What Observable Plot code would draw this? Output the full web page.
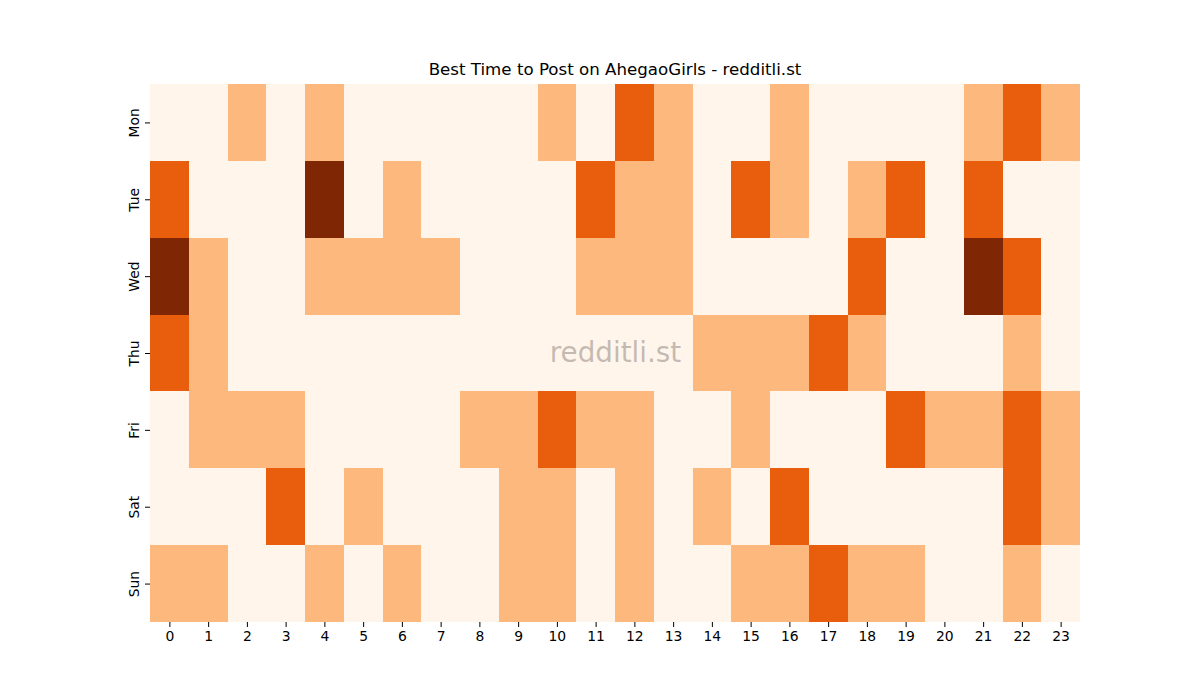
<!DOCTYPE html>
<html>
<head>
<meta charset="utf-8">
<script src="https://cdn.jsdelivr.net/npm/d3@7"></script>
<script src="https://cdn.jsdelivr.net/npm/@observablehq/plot@0.6"></script>
<style>
  body { margin: 0; background: #fff; font-family: "DejaVu Sans", sans-serif; }
  #wrap { width: 1200px; height: 700px; position: relative; }
  #title { height: 84px; position: relative; }
  #title span { position: absolute; left: 0; width: 1230px; top: 60px; text-align: center; font-size: 16.67px; line-height: 20px; color: #000; }
  svg { display: block; }
</style>
</head>
<body>
<div id="wrap">
  <div id="title"><span>Best Time to Post on AhegaoGirls - redditli.st</span></div>
  <div id="chart"></div>
</div>
<script>
const hours = d3.range(0, 24);
const days = ["Mon", "Tue", "Wed", "Thu", "Fri", "Sat", "Sun"];
const mon = [0,0,1,0,1,0,0,0,0,0,1,0,2,1,0,0,1,0,0,0,0,1,2,1];
const tue = [2,0,0,0,3,0,1,0,0,0,0,2,1,1,0,2,1,0,1,2,0,2,0,0];
const wed = [3,1,0,0,1,1,1,1,0,0,0,1,1,1,0,0,0,0,2,0,0,3,2,0];
const thu = [2,1,0,0,0,0,0,0,0,0,0,0,0,0,1,1,1,2,1,0,0,0,1,0];
const fri = [0,1,1,1,0,0,0,0,1,1,2,1,1,0,0,1,0,0,0,2,1,1,2,1];
const sat = [0,0,0,2,0,1,0,0,0,1,1,0,1,0,1,0,2,0,0,0,0,0,2,1];
const sun = [1,1,0,0,1,0,1,0,0,1,1,0,1,0,0,1,1,2,1,1,0,0,1,0];
const levels = [0, 1, 2, 3];
const levelColors = ["#fff5eb", "#fdb97d", "#e95e0d", "#7f2704"];

const rows = [mon, tue, wed, thu, fri, sat, sun];
const data = [];
rows.forEach((r, i) => r.forEach((v, h) => data.push({day: days[i], hour: h, value: v})));

const chart = Plot.plot({
  width: 1200,
  height: 616,
  marginLeft: 150,
  marginRight: 120,
  marginTop: 0,
  marginBottom: 78,
  style: {fontFamily: "DejaVu Sans, sans-serif", fontSize: "13.9px", color: "#000", background: "#fff"},
  x: {type: "band", domain: hours, padding: 0, round: false, label: null},
  y: {type: "band", domain: days, padding: 0, round: false, label: null},
  color: {type: "ordinal", domain: levels, range: levelColors},
  marks: [
    Plot.cell(data, {x: "hour", y: "day", fill: "value", inset: 0, shapeRendering: "crispEdges"}),
    Plot.axisX({tickSize: 5, tickPadding: 4, fontSize: 13.9, label: null}),
    Plot.axisY({tickSize: 5, tickPadding: 7, tickRotate: -90, fontSize: 13.9, label: null}),
    Plot.text(["redditli.st"], {frameAnchor: "middle", fontSize: 27.8, fill: "#8a8078", fillOpacity: 0.5})
  ]
});
document.getElementById("chart").appendChild(chart);
</script>
</body>
</html>
